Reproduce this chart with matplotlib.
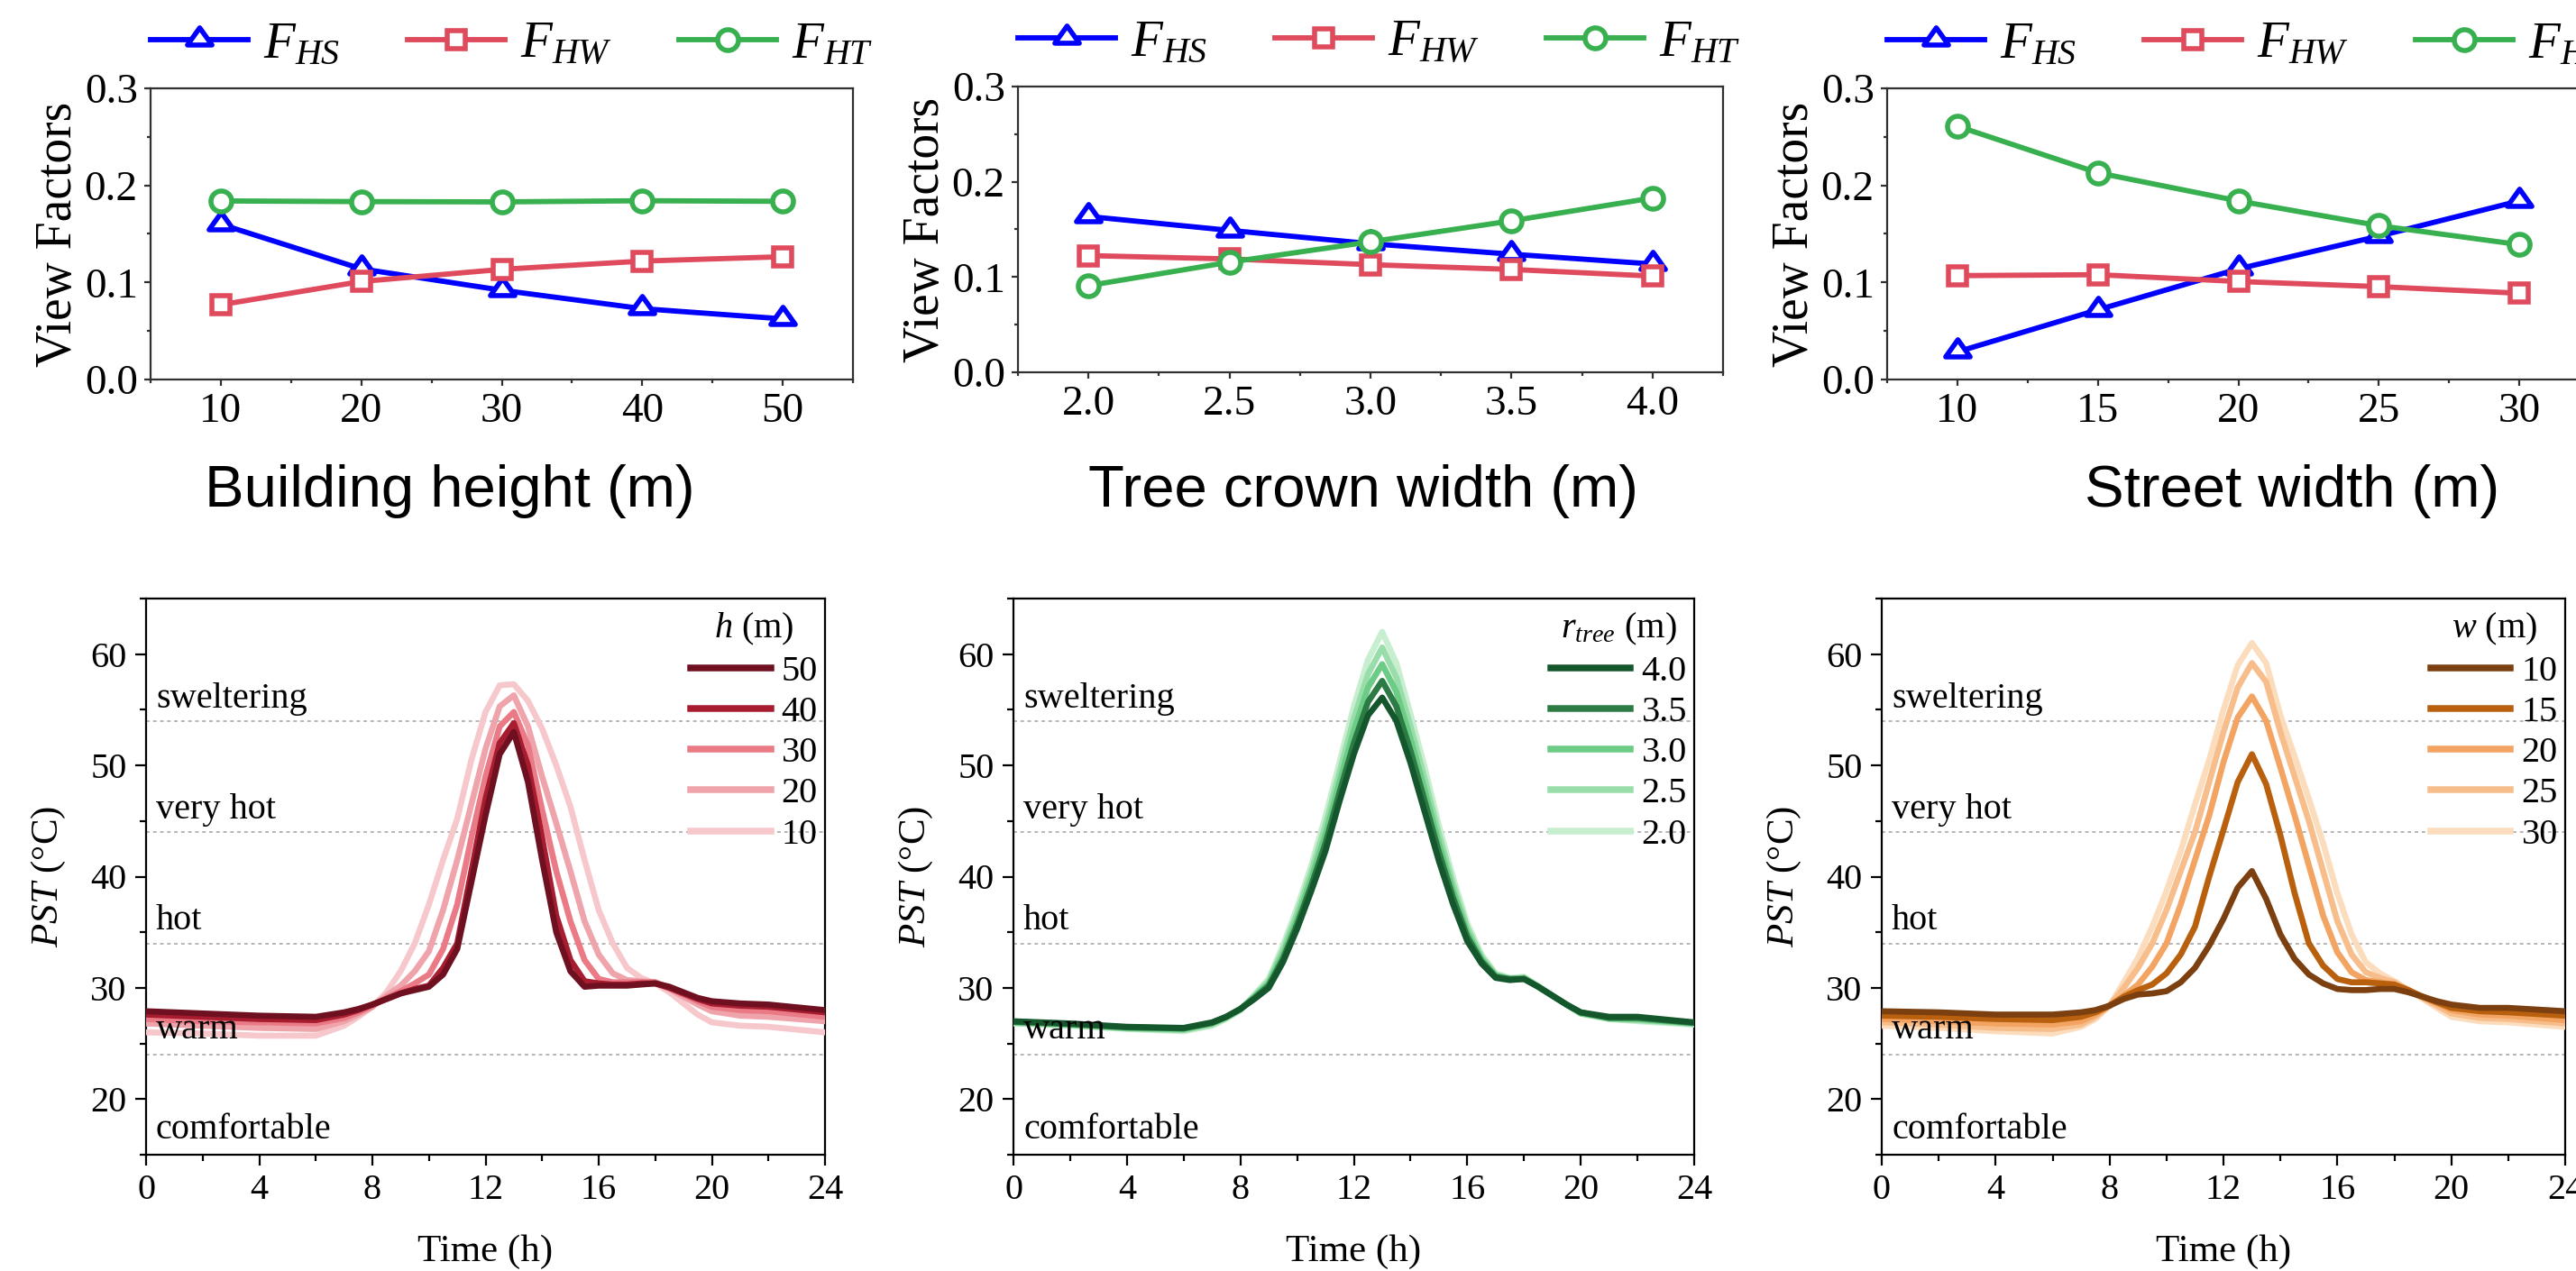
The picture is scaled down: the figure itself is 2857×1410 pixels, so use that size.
import numpy as np
import matplotlib
matplotlib.use('Agg')
import matplotlib.pyplot as plt
from matplotlib.ticker import MultipleLocator, FormatStrFormatter
from matplotlib.path import Path
from matplotlib.lines import Line2D

plt.rcParams['font.family'] = ['Liberation Serif', 'DejaVu Serif']
plt.rcParams['mathtext.fontset'] = 'custom'
plt.rcParams['mathtext.rm'] = 'Liberation Serif'
plt.rcParams['mathtext.it'] = 'Liberation Serif:italic'
plt.rcParams['mathtext.bf'] = 'Liberation Serif:bold'

# ---------------- data: view factors ----------------
bh_x = [10, 20, 30, 40, 50]
bh_FHS = [0.160, 0.114, 0.092, 0.073, 0.0625]
bh_FHW = [0.077, 0.101, 0.1135, 0.122, 0.1265]
bh_FHT = [0.184, 0.1833, 0.183, 0.1842, 0.1836]

tc_x = [2.0, 2.5, 3.0, 3.5, 4.0]
tc_FHS = [0.1636, 0.149, 0.135, 0.124, 0.1137]
tc_FHW = [0.1225, 0.119, 0.113, 0.108, 0.101]
tc_FHT = [0.091, 0.1156, 0.137, 0.159, 0.183]

sw_x = [10, 15, 20, 25, 30]
sw_FHS = [0.0285, 0.0718, 0.114, 0.1477, 0.184]
sw_FHW = [0.107, 0.108, 0.101, 0.0957, 0.0889]
sw_FHT = [0.261, 0.213, 0.184, 0.1585, 0.139]

top_xlabels = ['Building height (m)', 'Tree crown width (m)', 'Street width (m)']

# ---------------- data: PST time series ----------------
t = [0, 2, 4, 6, 7, 7.5, 8, 8.5, 9, 9.5, 10, 10.5, 11, 11.5, 12, 12.5, 13, 13.5,
     14, 14.5, 15, 15.5, 16, 16.5, 17, 17.5, 18, 18.5, 19, 19.5, 20, 21, 22, 24]

h_labels = ['50', '40', '30', '20', '10']
pst_h50 = [27.9, 27.7, 27.5, 27.4, 27.8, 28.1, 28.5, 29.0, 29.5, 29.8, 30.1, 31.2, 33.5, 39.5, 45.5, 51.0, 53.0, 48.5,
           41.5, 35.0, 31.5, 30.1, 30.2, 30.2, 30.2, 30.3, 30.4, 30.1, 29.6, 29.1, 28.8, 28.6, 28.5, 28.0]
pst_h40 = [27.6, 27.4, 27.2, 27.1, 27.6, 28.0, 28.5, 29.0, 29.5, 29.9, 30.2, 31.8, 34.0, 40.5, 47.0, 52.0, 53.8, 50.0,
           43.5, 36.5, 32.5, 30.6, 30.4, 30.3, 30.3, 30.4, 30.4, 30.0, 29.5, 29.0, 28.6, 28.4, 28.3, 27.8]
pst_h30 = [27.2, 27.0, 26.9, 26.8, 27.3, 27.8, 28.4, 29.1, 29.7, 30.4, 31.2, 33.5, 37.5, 43.5, 49.0, 53.5, 54.8, 51.8,
           46.0, 40.5, 36.0, 32.5, 30.8, 30.5, 30.5, 30.5, 30.5, 30.0, 29.4, 28.8, 28.3, 28.0, 27.9, 27.4]
pst_h20 = [26.8, 26.6, 26.4, 26.3, 27.0, 27.6, 28.3, 29.3, 30.2, 31.5, 33.3, 37.0, 41.5, 46.5, 51.5, 55.3, 56.3, 53.5,
           49.0, 44.8, 40.5, 36.0, 33.0, 31.3, 30.7, 30.6, 30.5, 29.9, 29.2, 28.5, 27.9, 27.5, 27.4, 27.0]
pst_h10 = [26.0, 25.9, 25.7, 25.7, 26.6, 27.4, 28.3, 29.6, 31.5, 34.0, 37.5, 41.5, 45.2, 50.5, 54.8, 57.2, 57.3, 55.8,
           53.3, 50.0, 46.3, 41.5, 37.0, 34.0, 31.8, 30.9, 30.4, 29.6, 28.6, 27.6, 26.9, 26.6, 26.5, 26.0]

r_labels = ['4.0', '3.5', '3.0', '2.5', '2.0']
pst_r40 = [27.0, 26.8, 26.5, 26.4, 26.9, 27.4, 28.1, 29.0, 30.0, 32.3, 35.3, 38.7, 42.3, 46.8, 51.0, 54.5, 56.1, 54.0,
           50.2, 45.8, 41.4, 37.5, 34.2, 32.2, 30.9, 30.7, 30.8, 30.1, 29.3, 28.5, 27.8, 27.4, 27.4, 26.9]
pst_r35 = [26.95, 26.75, 26.45, 26.35, 26.85, 27.4, 28.1, 29.1, 30.2, 32.6, 35.7, 39.2, 43.0, 47.6, 52.0, 55.7, 57.6, 55.3,
           51.3, 46.8, 42.2, 38.1, 34.6, 32.4, 31.0, 30.8, 30.8, 30.1, 29.3, 28.5, 27.8, 27.3, 27.3, 26.85]
pst_r30 = [26.9, 26.7, 26.4, 26.3, 26.8, 27.35, 28.1, 29.2, 30.4, 33.0, 36.2, 39.8, 43.8, 48.5, 53.1, 57.0, 59.1, 56.6,
           52.4, 47.8, 43.0, 38.7, 35.0, 32.6, 31.1, 30.8, 30.9, 30.1, 29.3, 28.5, 27.7, 27.3, 27.2, 26.8]
pst_r25 = [26.85, 26.65, 26.35, 26.2, 26.7, 27.3, 28.0, 29.3, 30.6, 33.4, 36.7, 40.4, 44.6, 49.4, 54.2, 58.2, 60.6, 57.9,
           53.5, 48.8, 43.8, 39.3, 35.4, 32.8, 31.2, 30.8, 30.9, 30.1, 29.3, 28.5, 27.7, 27.2, 27.1, 26.75]
pst_r20 = [26.8, 26.6, 26.3, 26.1, 26.6, 27.2, 28.0, 29.4, 30.8, 33.8, 37.2, 41.0, 45.4, 50.3, 55.3, 59.5, 62.0, 59.2,
           54.6, 49.8, 44.6, 39.9, 35.8, 33.0, 31.3, 30.9, 31.0, 30.2, 29.3, 28.5, 27.7, 27.2, 27.0, 26.7]

w_labels = ['10', '15', '20', '25', '30']
pst_w10 = [27.9, 27.8, 27.6, 27.6, 27.8, 28.0, 28.4, 29.0, 29.4, 29.5, 29.7, 30.5, 31.8, 33.8, 36.2, 39.0, 40.5, 38.0,
           34.8, 32.6, 31.2, 30.4, 29.9, 29.8, 29.8, 29.9, 29.9, 29.6, 29.2, 28.8, 28.5, 28.2, 28.2, 27.9]
pst_w15 = [27.5, 27.4, 27.2, 27.1, 27.4, 27.8, 28.4, 29.2, 29.8, 30.3, 31.3, 33.0, 35.5, 40.0, 44.2, 48.5, 51.0, 48.3,
           43.7, 38.5, 34.0, 32.0, 30.8, 30.5, 30.5, 30.4, 30.3, 29.8, 29.2, 28.7, 28.2, 27.9, 27.8, 27.5]
pst_w20 = [27.2, 27.0, 26.8, 26.7, 27.0, 27.6, 28.4, 29.3, 30.3, 31.9, 34.0, 37.5, 41.5, 45.5, 50.3, 54.3, 56.2, 54.0,
           49.8, 45.5, 41.0, 36.5, 33.2, 31.4, 30.7, 30.5, 30.3, 29.7, 29.2, 28.6, 28.0, 27.6, 27.5, 27.1]
pst_w25 = [26.9, 26.7, 26.4, 26.3, 26.7, 27.4, 28.4, 30.0, 31.8, 34.0, 37.0, 40.5, 44.0, 48.5, 53.0, 57.0, 59.2, 57.5,
           53.0, 49.0, 45.0, 40.5, 36.0, 33.0, 31.4, 30.9, 30.5, 29.8, 29.1, 28.4, 27.7, 27.3, 27.2, 26.8]
pst_w30 = [26.6, 26.4, 26.1, 25.9, 26.5, 27.2, 28.4, 30.5, 32.7, 35.5, 38.7, 42.3, 46.5, 50.5, 55.0, 59.0, 61.0, 59.2,
           54.5, 50.8, 47.0, 43.0, 38.5, 34.8, 32.3, 31.3, 30.6, 29.8, 29.0, 28.2, 27.4, 27.0, 26.9, 26.5]

zone_levels = [24, 34, 44, 54]
zone_names = ['comfortable', 'warm', 'hot', 'very hot', 'sweltering']
zone_text_y = [17.2, 26.2, 36.0, 46.0, 56.0]

# ---------------- styles ----------------
C_HS, C_HW, C_HT = '#0000FF', '#DF4A5C', '#38B04F'
reds = ['#6E1020', '#A81C30', '#E97A86', '#EFA3AA', '#F6C8CC']
greens = ['#15572C', '#2C7A44', '#6CCB84', '#99DEAA', '#C6EECF']
oranges = ['#7B3F10', '#B9600F', '#F3A462', '#F7BE8C', '#FBDDBD']

tri = Path([(0, 0.5), (-0.5, -0.2), (0.5, -0.2), (0, 0.5)],
           [Path.MOVETO, Path.LINETO, Path.LINETO, Path.CLOSEPOLY])

DPI = 200
W, H = 2857, 1410
fig = plt.figure(figsize=(W / DPI, H / DPI), dpi=DPI)


def px_axes(l, t_, r, b):
    return fig.add_axes([l / W, 1 - b / H, (r - l) / W, (b - t_) / H])


def style_axes(ax, lab, majlen, minlen, pad, spc):
    for s in ax.spines.values():
        s.set_linewidth(0.8)
        s.set_color(spc)
    ax.tick_params(which='both', direction='out', top=False, right=False,
                   width=0.8, color=spc, labelsize=lab, pad=pad)
    ax.tick_params(which='major', length=majlen)
    ax.tick_params(which='minor', length=minlen)


# ---------------- top row ----------------
top_pos = [(167, 98, 946, 421), (1129, 96, 1911, 413), (2093, 98, 2872, 421)]
top_data = [(bh_x, bh_FHS, bh_FHW, bh_FHT), (tc_x, tc_FHS, tc_FHW, tc_FHT), (sw_x, sw_FHS, sw_FHW, sw_FHT)]
top_xlim = [(5, 55), (1.75, 4.25), (7.5, 32.5)]
top_xmaj = [10, 0.5, 5]
top_xmin = [5, 0.25, 2.5]
top_fmt = ['%d', '%.1f', '%d']
top_label_xc = [499, 1512, 2542]

for i in range(3):
    l, tt, r, b = top_pos[i]
    ax = px_axes(l, tt, r, b)
    x, hs, hw, ht = top_data[i]
    ax.plot(x, hs, color=C_HS, lw=2.1, marker=tri, ms=9.8, mfc='white', mec=C_HS, mew=2.0, label=r'$F_{HS}$')
    ax.plot(x, hw, color=C_HW, lw=2.1, marker='s', ms=7.0, mfc='white', mec=C_HW, mew=2.0, label=r'$F_{HW}$')
    ax.plot(x, ht, color=C_HT, lw=2.1, marker='o', ms=8.3, mfc='white', mec=C_HT, mew=2.0, label=r'$F_{HT}$')
    ax.set_xlim(*top_xlim[i])
    ax.set_ylim(0, 0.3)
    ax.xaxis.set_major_locator(MultipleLocator(top_xmaj[i]))
    ax.xaxis.set_minor_locator(MultipleLocator(top_xmin[i]))
    ax.xaxis.set_major_formatter(FormatStrFormatter(top_fmt[i]))
    ax.yaxis.set_major_locator(MultipleLocator(0.1))
    ax.yaxis.set_minor_locator(MultipleLocator(0.05))
    ax.yaxis.set_major_formatter(FormatStrFormatter('%.1f'))
    style_axes(ax, 17, 2.6, 1.4, 2.5, '#303030')
    ax.set_ylabel('View Factors', fontsize=20)
    ax.yaxis.label.set_va('center')
    ax.yaxis.set_label_coords(-102 / (r - l), 0.5)
    ax.set_xlabel(top_xlabels[i], fontsize=23.5, family=['Liberation Sans', 'DejaVu Sans'])
    ax.xaxis.label.set_va('center')
    ax.xaxis.set_label_coords((top_label_xc[i] - l) / (r - l), (b - 545) / (b - tt))
    ax.legend(loc='center left', bbox_to_anchor=(0, 1 + 48 / (b - tt)), ncol=3, frameon=False,
              fontsize=20.5, handlelength=1.9, handletextpad=0.3, columnspacing=1.3,
              borderpad=0, borderaxespad=0)

# ---------------- bottom row ----------------
bot_pos = [(162, 664, 915, 1281), (1124, 664, 1879, 1281), (2087, 664, 2845, 1281)]
bot_series = [[pst_h50, pst_h40, pst_h30, pst_h20, pst_h10],
              [pst_r40, pst_r35, pst_r30, pst_r25, pst_r20],
              [pst_w10, pst_w15, pst_w20, pst_w25, pst_w30]]
bot_labels = [h_labels, r_labels, w_labels]
bot_colors = [reds, greens, oranges]
bot_titles = [r'$h$ (m)', r'$r_{tree}$ (m)', r'$w$ (m)']

for i in range(3):
    l, tt, r, b = bot_pos[i]
    ax = px_axes(l, tt, r, b)
    for lev in zone_levels:
        ax.axhline(lev, color='#B5B5B5', lw=0.7, ls=(0, (2, 2)), zorder=1)
    for name, yy in zip(zone_names, zone_text_y):
        ax.text(0.35, yy, name, fontsize=14.5, va='center', ha='left', zorder=6)
    handles = []
    for k in range(4, -1, -1):
        ax.plot(t, bot_series[i][k], color=bot_colors[i][k], lw=2.4, zorder=3,
                solid_joinstyle='round', solid_capstyle='round')
    for k in range(5):
        handles.append(Line2D([], [], color=bot_colors[i][k], lw=2.7))
    ax.set_xlim(0, 24)
    ax.set_ylim(15, 65)
    ax.xaxis.set_major_locator(MultipleLocator(4))
    ax.xaxis.set_minor_locator(MultipleLocator(2))
    ax.yaxis.set_major_locator(MultipleLocator(10))
    ax.yaxis.set_minor_locator(MultipleLocator(5))
    style_axes(ax, 14.5, 4.2, 2.4, 3.5, 'black')
    ax.set_ylabel(r'$PST$ (°C)', fontsize=15.5)
    ax.yaxis.label.set_va('center')
    ax.yaxis.set_label_coords(-108 / (r - l), 0.5)
    ax.set_xlabel('Time (h)', fontsize=15.5)
    ax.xaxis.label.set_va('center')
    ax.xaxis.set_label_coords(0.5, (b - 1389) / (b - tt))
    ax.legend(handles, bot_labels[i], title=bot_titles[i], loc='upper right',
              bbox_to_anchor=(1.0, 0.99), frameon=False, fontsize=14.5, title_fontsize=14.5,
              handlelength=2.2, handletextpad=0.3, labelspacing=0.2,
              borderpad=0.2, borderaxespad=0)

fig.savefig('out.png', dpi=DPI)
